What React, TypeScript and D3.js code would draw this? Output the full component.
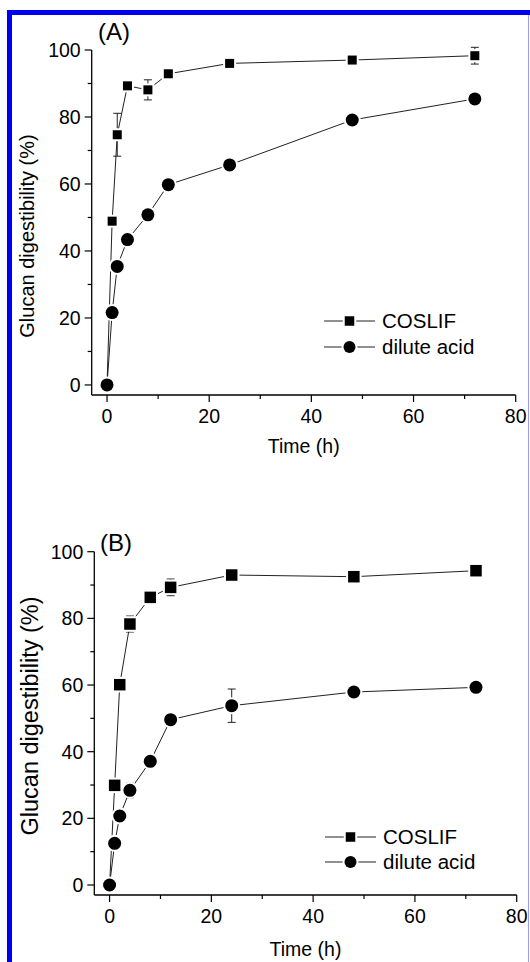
import React from "react";
import * as d3 from "d3";

const timeH = [0, 1, 2, 4, 8, 12, 24, 48, 72];
const coslifA = [0, 48.9, 74.7, 89.3, 88.1, 92.9, 96.0, 97.0, 98.3];
const coslifAErr = [0, 0, 6.4, 0.8, 3.0, 0.8, 0.5, 1.6, 2.5];
const acidA = [0, 21.6, 35.4, 43.4, 50.8, 59.8, 65.7, 79.1, 85.4];
const acidAErr = [0, 0, 0, 0, 0, 0, 0, 0, 0];
const coslifB = [0, 29.9, 60.1, 78.3, 86.3, 89.3, 93.0, 92.5, 94.3];
const coslifBErr = [0, 0, 0, 2.4, 0.8, 2.5, 0.8, 0, 0];
const acidB = [0, 12.5, 20.7, 28.4, 37.1, 49.6, 53.8, 57.9, 59.3];
const acidBErr = [0, 0, 0, 2.2, 0, 0, 5.0, 0, 0];

const xTicks = [0, 20, 40, 60, 80];
const xMinor = [10, 30, 50, 70];
const yTicks = [0, 20, 40, 60, 80, 100];
const yMinor = [10, 30, 50, 70, 90];
const seriesNames = ["COSLIF", "dilute acid"];
const panelLabels = ["(A)", "(B)"];
const xTitle = "Time (h)";
const yTitle = "Glucan digestibility (%)";

const FONT = "'Liberation Sans', Arial, Helvetica, sans-serif";
const LINE = "#222";

type PanelProps = {
  label: string;
  s1: number[];
  e1: number[];
  s2: number[];
  e2: number[];
  left: number;
  right: number;
  top: number;
  bottom: number;
  sq: number;
  yTitleX: number;
  yTitleY: number;
  yTitleSize: number;
  xTitleY: number;
  labelX: number;
  labelY: number;
  legX: number;
  legY1: number;
  legY2: number;
};

function Square({ x, y, s }: { x: number; y: number; s: number }) {
  return (
    <g>
      <rect x={x - s / 2 - 2} y={y - s / 2 - 2} width={s + 4} height={s + 4} fill="#fff" />
      <rect x={x - s / 2} y={y - s / 2} width={s} height={s} fill="#000" />
    </g>
  );
}
function Dot({ x, y, r }: { x: number; y: number; r: number }) {
  return (
    <g>
      <circle cx={x} cy={y} r={r + 2} fill="#fff" />
      <circle cx={x} cy={y} r={r} fill="#000" />
    </g>
  );
}

function Panel(p: PanelProps) {
  const x = d3.scaleLinear().domain([-3, 80]).range([p.left, p.right]);
  const y = d3.scaleLinear().domain([-3, 100]).range([p.bottom, p.top]);
  const line = d3
    .line<number>()
    .x((_, i) => x(timeH[i]))
    .y((v) => y(v));
  const r = 6.5;
  const errBars = (vals: number[], errs: number[], key: string) =>
    vals.map((v, i) =>
      errs[i] > 0 ? (
        <g key={key + i} stroke={LINE} strokeWidth={1}>
          <line x1={x(timeH[i])} x2={x(timeH[i])} y1={y(v - errs[i])} y2={y(v + errs[i])} />
          <line x1={x(timeH[i]) - 4} x2={x(timeH[i]) + 4} y1={y(v - errs[i])} y2={y(v - errs[i])} />
          <line x1={x(timeH[i]) - 4} x2={x(timeH[i]) + 4} y1={y(v + errs[i])} y2={y(v + errs[i])} />
        </g>
      ) : null
    );
  return (
    <g fontFamily={FONT}>
      <line x1={p.left} x2={p.left} y1={p.top} y2={p.bottom} stroke="#000" strokeWidth={1.3} />
      <line x1={p.left} x2={p.right} y1={p.bottom} y2={p.bottom} stroke="#000" strokeWidth={1.3} />
      {yTicks.map((t) => (
        <g key={"yt" + t}>
          <line x1={p.left - 7} x2={p.left} y1={y(t)} y2={y(t)} stroke="#000" strokeWidth={1.2} />
          <text x={p.left - 11} y={y(t)} dy="0.36em" textAnchor="end" fontSize={19.5}>
            {t}
          </text>
        </g>
      ))}
      {yMinor.map((t) => (
        <line key={"ym" + t} x1={p.left - 4} x2={p.left} y1={y(t)} y2={y(t)} stroke="#000" strokeWidth={1.2} />
      ))}
      {xTicks.map((t) => (
        <g key={"xt" + t}>
          <line x1={x(t)} x2={x(t)} y1={p.bottom} y2={p.bottom + 7} stroke="#000" strokeWidth={1.2} />
          <text x={x(t)} y={p.bottom + 27.5} textAnchor="middle" fontSize={19.5}>
            {t}
          </text>
        </g>
      ))}
      {xMinor.map((t) => (
        <line key={"xm" + t} x1={x(t)} x2={x(t)} y1={p.bottom} y2={p.bottom + 4} stroke="#000" strokeWidth={1.2} />
      ))}
      <text x={(p.left + p.right) / 2} y={p.xTitleY} textAnchor="middle" fontSize={19.5}>
        {xTitle}
      </text>
      <text
        transform={`translate(${p.yTitleX},${p.yTitleY}) rotate(-90)`}
        textAnchor="middle"
        fontSize={p.yTitleSize}
      >
        {yTitle}
      </text>
      <text x={p.labelX} y={p.labelY} fontSize={24}>
        {p.label}
      </text>
      <path d={line(p.s1) || ""} fill="none" stroke={LINE} strokeWidth={1} />
      <path d={line(p.s2) || ""} fill="none" stroke={LINE} strokeWidth={1} />
      {errBars(p.s1, p.e1, "e1")}
      {errBars(p.s2, p.e2, "e2")}
      {p.s1.map((v, i) => (
        <Square key={"s" + i} x={x(timeH[i])} y={y(v)} s={p.sq} />
      ))}
      {p.s2.map((v, i) => (
        <Dot key={"d" + i} x={x(timeH[i])} y={y(v)} r={r} />
      ))}
      <line x1={p.legX} x2={p.legX + 51} y1={p.legY1} y2={p.legY1} stroke={LINE} strokeWidth={1} />
      <Square x={p.legX + 25.5} y={p.legY1} s={9.5} />
      <text x={p.legX + 58} y={p.legY1} dy="0.36em" fontSize={20.5}>
        {seriesNames[0]}
      </text>
      <line x1={p.legX} x2={p.legX + 51} y1={p.legY2} y2={p.legY2} stroke={LINE} strokeWidth={1} />
      <Dot x={p.legX + 25.5} y={p.legY2} r={6} />
      <text x={p.legX + 58} y={p.legY2} dy="0.36em" fontSize={20.5}>
        {seriesNames[1]}
      </text>
    </g>
  );
}

export default function App() {
  return (
    <svg
      width={530}
      height={962}
      style={{ position: "absolute", left: 0, top: 0, background: "#fff" }}
    >
      <rect x={0} y={0} width={530} height={962} fill="#fff" />
      <rect x={7} y={10} width={523} height={5} fill="#0000f0" />
      <rect x={7} y={10} width={5} height={952} fill="#0000f0" />
      <line x1={528.5} x2={528.5} y1={15} y2={962} stroke="#9a9aff" strokeWidth={1} />
      <Panel
        label={panelLabels[0]}
        s1={coslifA}
        e1={coslifAErr}
        s2={acidA}
        e2={acidAErr}
        left={91.7}
        right={515.7}
        top={50}
        bottom={395}
        sq={9}
        yTitleX={34}
        yTitleY={236}
        yTitleSize={20}
        xTitleY={453}
        labelX={98}
        labelY={40}
        legX={324}
        legY1={321}
        legY2={347}
      />
      <Panel
        label={panelLabels[1]}
        s1={coslifB}
        e1={coslifBErr}
        s2={acidB}
        e2={acidBErr}
        left={94.3}
        right={516.7}
        top={551.7}
        bottom={895}
        sq={11.5}
        yTitleX={38}
        yTitleY={716}
        yTitleSize={23.5}
        xTitleY={956}
        labelX={100}
        labelY={551}
        legX={325}
        legY1={837}
        legY2={862}
      />
    </svg>
  );
}
